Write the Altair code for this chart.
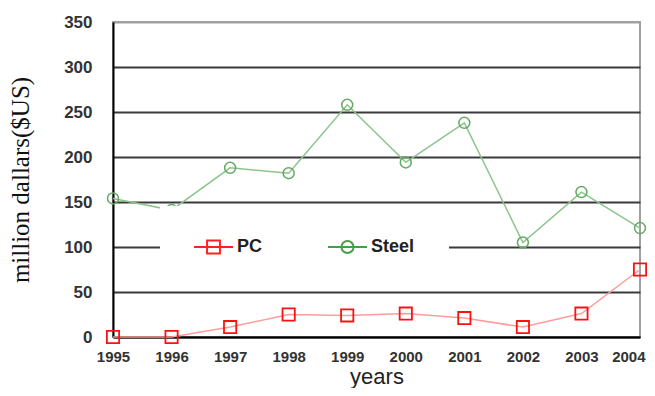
import altair as alt
import pandas as pd

years = [1995, 1996, 1997, 1998, 1999, 2000, 2001, 2002, 2003, 2004]
pc = [0, 0, 11, 25, 24, 26, 21, 11, 26, 75]
steel = [154, 141, 188, 182, 258, 194, 238, 105, 161, 121]
series = ["PC", "Steel"]
y_ticks = [0, 50, 100, 150, 200, 250, 300, 350]

df = pd.DataFrame({
    "year": years + years,
    "value": pc + steel,
    "series": ["PC"] * len(years) + ["Steel"] * len(years),
})

sq_path = "M-1,0L1,0M-0.33,-0.33L0.33,-0.33L0.33,0.33L-0.33,0.33Z"
circ_path = "M-1,0L1,0M-0.31,0A0.31,0.31,0,1,1,0.31,0A0.31,0.31,0,1,1,-0.31,0Z"

sans = "Liberation Sans, Arial, sans-serif"

x = alt.X(
    "year:Q",
    scale=alt.Scale(domain=[1995, 2004], nice=False, zero=False),
    axis=alt.Axis(
        values=years, format="d", title="years", grid=False, ticks=False,
        domainColor="#000000", domainWidth=2, labelOverlap=False, labelFlush=False,
        labelAlign={"condition": {"test": "datum.value === 2004", "value": "right"}, "value": "center"},
        labelOffset={"condition": {"test": "datum.value === 2004", "value": 5}, "value": 0},
        labelFont=sans, labelFontSize=15, labelFontWeight="bold", labelColor="#333333",
        labelPadding=12,
        titleFont=sans, titleFontSize=22,
        titleFontWeight="normal", titleColor="#222222", titlePadding=2,
    ),
)
y = alt.Y(
    "value:Q",
    scale=alt.Scale(domain=[0, 350], nice=False),
    axis=alt.Axis(
        values=y_ticks, title="million dallars($US)", grid=True, ticks=False,
        gridColor={"condition": {"test": "datum.value === 350", "value": "#a0a0a0"}, "value": "#3a3a3a"},
        gridWidth=2, gridOpacity=1, labelOverlap=False, labelFlush=False,
        domainColor="#000000", domainWidth=2,
        labelFont=sans, labelFontSize=17, labelFontWeight="bold", labelColor="#333333",
        labelPadding=21,
        titleFont="Liberation Serif, Times New Roman, serif", titleFontSize=25,
        titleFontWeight="normal", titleColor="#111111", titlePadding=30,
    ),
)

base = alt.Chart(df).encode(x=x, y=y)

pc_line = base.transform_filter("datum.series == 'PC'").mark_line(color="#ff9c9c", strokeWidth=1.5)
steel_line = base.transform_filter("datum.series == 'Steel'").mark_line(color="#8cc48c", strokeWidth=1.5)
steel_pts = base.transform_filter("datum.series == 'Steel'").mark_point(
    shape="circle", filled=False, color="#62aa62", size=120, strokeWidth=1.5, opacity=1)
pc_pts = base.transform_filter("datum.series == 'PC'").mark_point(
    shape="square", filled=False, color="#ff1010", size=150, strokeWidth=1.8, opacity=1)

legend_layer = alt.Chart(df).transform_filter("datum.year < 0").mark_point(
    filled=False, opacity=1, strokeWidth=2).encode(
    color=alt.Color("series:N", scale=alt.Scale(domain=series, range=["#ff2020", "#44a044"]),
                    legend=alt.Legend(title=None)),
    shape=alt.Shape("series:N", scale=alt.Scale(domain=series, range=[sq_path, circ_path]),
                    legend=alt.Legend(title=None)),
)

chart = alt.layer(steel_line, pc_line, steel_pts, pc_pts, legend_layer).properties(
    width=527, height=315,
    autosize=alt.AutoSizeParams(type="none"),
    padding={"left": 105, "top": 14, "right": 7, "bottom": 51},
).configure_view(
    stroke="#a0a0a0", strokeWidth=2
).configure_legend(
    orient="none", legendX=47, legendY=184, direction="horizontal",
    padding=33, fillColor="white", strokeColor="white",
    clipHeight=16, symbolSize=1521, symbolStrokeWidth=2, labelOffset=3,
    columnPadding=64,
    labelFont=sans, labelFontSize=18,
    labelFontWeight="bold", labelColor="#222222",
)

chart.save("out.html", embed_options={"renderer": "svg", "actions": False})
